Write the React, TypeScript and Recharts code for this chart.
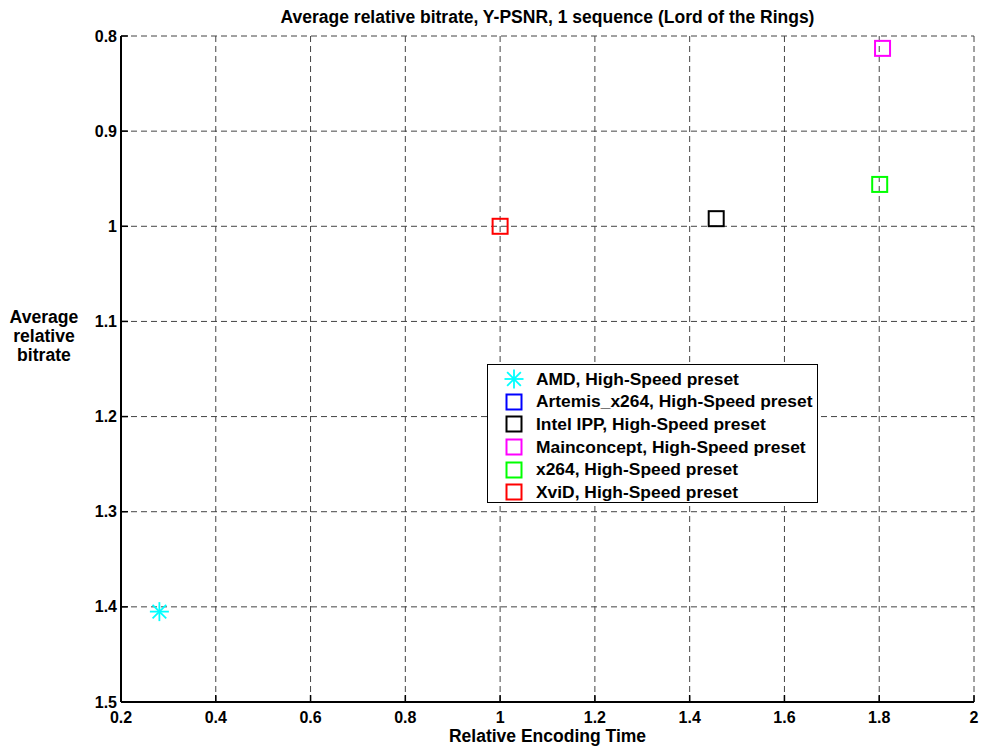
import React from 'react';
import {
    ScatterChart,
    Scatter,
    XAxis,
    YAxis,
    CartesianGrid,
} from 'recharts';

// Codec presets, one point each (Artemis has no point in range)
const SERIES = [
    'AMD, High-Speed preset',
    'Artemis_x264, High-Speed preset',
    'Intel IPP, High-Speed preset',
    'Mainconcept, High-Speed preset',
    'x264, High-Speed preset',
    'XviD, High-Speed preset',
];
const ENC_TIME: (number | null)[] = [0.281, null, 1.456, 1.807, 1.801, 1.0];
const REL_BITRATE: (number | null)[] = [1.405, null, 0.992, 0.813, 0.956, 1.0];
const COLORS = ['#00ffff', '#0000ff', '#000000', '#ff00ff', '#00ff00', '#ff0000'];
const MARKERS = ['star', 'square', 'square', 'square', 'square', 'square'];

const X_TICKS = [0.2, 0.4, 0.6, 0.8, 1, 1.2, 1.4, 1.6, 1.8, 2];
const Y_TICKS = [0.8, 0.9, 1, 1.1, 1.2, 1.3, 1.4, 1.5];

const FONT = 'Arial, "Liberation Sans", Helvetica, sans-serif';

const Marker = ({ kind, color, cx, cy }: { kind: string; color: string; cx: number; cy: number }) => {
    if (kind === 'star') {
        const r = 9.5;
        const d = r * 0.72;
        return (
            <g stroke={color} strokeWidth={1.8}>
                <line x1={cx - r} y1={cy} x2={cx + r} y2={cy} />
                <line x1={cx} y1={cy - r} x2={cx} y2={cy + r} />
                <line x1={cx - d} y1={cy - d} x2={cx + d} y2={cy + d} />
                <line x1={cx - d} y1={cy + d} x2={cx + d} y2={cy - d} />
            </g>
        );
    }
    const s = 15;
    return <rect x={cx - s / 2} y={cy - s / 2} width={s} height={s} fill="none" stroke={color} strokeWidth={2} />;
};

const YTick = ({ x, y, payload }: any) => (
    <g>
        <line x1={x + 4} y1={y} x2={x + 11} y2={y} stroke="#000" strokeWidth={1.5} />
        <text x={x} y={y} textAnchor="end" dominantBaseline="central" fontSize={16} fontWeight="bold" fill="#000" fontFamily={FONT}>
            {payload.value}
        </text>
    </g>
);

const XTick = ({ x, y, payload }: any) => (
    <g>
        <line x1={x} y1={y - 10} x2={x} y2={y - 17} stroke="#000" strokeWidth={1.5} />
        <text x={x} y={y} dy="0.71em" textAnchor="middle" fontSize={16} fontWeight="bold" fill="#000" fontFamily={FONT}>
            {payload.value}
        </text>
    </g>
);

const LegendBox = () => (
    <div
        style={{
            position: 'absolute',
            left: 487,
            top: 364,
            zIndex: 2,
            border: '1.5px solid #000',
            background: '#fff',
            width: 331,
            height: 139,
            boxSizing: 'border-box',
            paddingTop: 3,
            fontFamily: FONT,
            fontWeight: 'bold',
            fontSize: 17.4,
            color: '#000',
        }}
    >
        {SERIES.map((name, i) => (
            <div key={name} style={{ display: 'flex', alignItems: 'center', height: 22.6 }}>
                <svg width={48} height={22} style={{ flex: 'none' }}>
                    <Marker kind={MARKERS[i]} color={COLORS[i]} cx={26} cy={11} />
                </svg>
                <span style={{ whiteSpace: 'nowrap' }}>{name}</span>
            </div>
        ))}
    </div>
);

export default function App() {
    return (
        <div style={{ position: 'absolute', left: 0, top: 0, width: 981, height: 749, background: '#fff' }}>
            <div
                style={{
                    position: 'absolute', left: 121, width: 853, top: 7, textAlign: 'center', lineHeight: '20px',
                    fontFamily: FONT, fontWeight: 'bold', fontSize: 17.5, color: '#000',
                }}
            >
                Average relative bitrate, Y-PSNR, 1 sequence (Lord of the Rings)
            </div>
            <div
                style={{
                    position: 'absolute', left: 0, width: 88, top: 308, textAlign: 'center', lineHeight: '19px',
                    fontFamily: FONT, fontWeight: 'bold', fontSize: 17.6, color: '#000',
                }}
            >
                Average<br />relative<br />bitrate
            </div>
            <div
                style={{
                    position: 'absolute', left: 121, width: 853, top: 729, textAlign: 'center', lineHeight: '14px',
                    fontFamily: FONT, fontWeight: 'bold', fontSize: 17.5, color: '#000',
                }}
            >
                Relative Encoding Time
            </div>
            <LegendBox />
            <ScatterChart width={981} height={749} margin={{ top: 36, right: 7, bottom: 0, left: 0 }}>
                <CartesianGrid stroke="#444" strokeDasharray="6 4" strokeWidth={1} />
                <XAxis
                    type="number"
                    dataKey="x"
                    domain={[0.2, 2]}
                    ticks={X_TICKS}
                    allowDataOverflow
                    height={47}
                    tickSize={0}
                    tickMargin={10}
                    tick={<XTick />}
                    tickLine={false}
                    axisLine={{ stroke: '#000', strokeWidth: 2 }}
                />
                <YAxis
                    type="number"
                    dataKey="y"
                    domain={[0.8, 1.5]}
                    reversed
                    ticks={Y_TICKS}
                    allowDataOverflow
                    width={121}
                    tickSize={0}
                    tickMargin={4}
                    tick={<YTick />}
                    tickLine={false}
                    axisLine={{ stroke: '#000', strokeWidth: 2 }}
                />
                {SERIES.map((name, i) => (
                    <Scatter
                        key={name}
                        name={name}
                        data={ENC_TIME[i] === null ? [] : [{ x: ENC_TIME[i], y: REL_BITRATE[i] }]}
                        isAnimationActive={false}
                        shape={(p: any) => <Marker kind={MARKERS[i]} color={COLORS[i]} cx={p.cx} cy={p.cy} />}
                    />
                ))}
            </ScatterChart>
        </div>
    );
}
